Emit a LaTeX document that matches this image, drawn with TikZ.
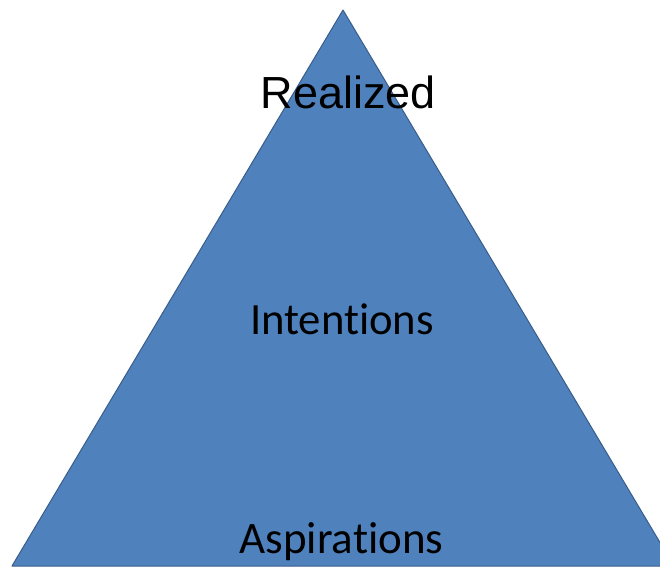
\documentclass[tikz,border=0pt]{standalone}
\usepackage{fontspec}
\setmainfont[Ligatures={NoCommon,NoRequired,NoContextual}]{Carlito}
\newfontfamily\arialf{Liberation Sans}
\definecolor{triFill}{HTML}{4F81BD}
\definecolor{triEdge}{HTML}{385D8A}
\begin{document}
\begin{tikzpicture}[x=1pt,y=-1pt,
  lbl/.style={anchor=base, inner sep=0pt, text=black}]
\useasboundingbox (0,0) rectangle (660,568);
\clip (0,0) rectangle (660,568);
\coordinate (apex) at (343,10);
\coordinate (bl) at (12,566);
\coordinate (br) at (674,566);
\draw[fill=triFill, draw=triEdge, line width=1pt, line join=round] (apex) -- (bl) -- (br) -- cycle;
\node[lbl, font=\arialf\fontsize{45}{50}\selectfont] (realized) at (348.5,108) {Realized};
\node[lbl, font=\fontsize{44.7}{50}\selectfont] (intentions) at (342,334) {Intentions};
\node[lbl, font=\fontsize{45}{50}\selectfont] (aspirations) at (341.5,553) {Aspirations};
\end{tikzpicture}
\end{document}
